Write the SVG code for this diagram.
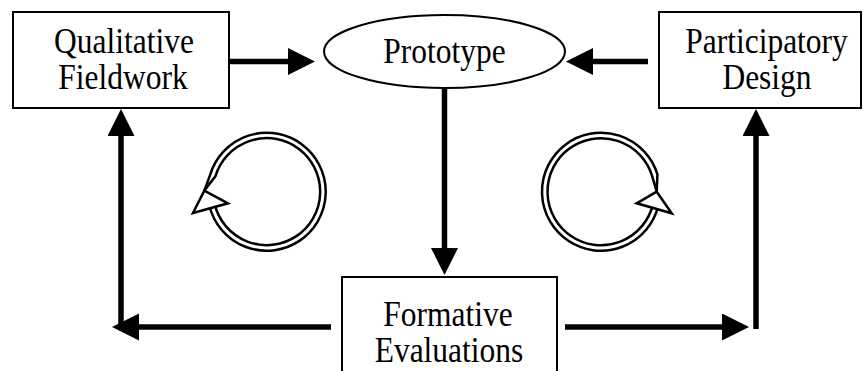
<svg xmlns="http://www.w3.org/2000/svg" width="863" height="371" viewBox="0 0 863 371">
  <style>
    .box { fill: #fff; stroke: #000; stroke-width: 2; }
    .lbl { font-family: "Liberation Serif", "Times New Roman", serif; font-size: 31.5px; fill: #000; text-anchor: middle; }
    .conn { stroke: #000; stroke-width: 5.5; fill: none; }
    .cyc { fill: #fff; stroke: #000; stroke-width: 2.5; stroke-linejoin: miter; }
  </style>
  <defs>
    <marker id="head" markerUnits="userSpaceOnUse" markerWidth="28" markerHeight="28" refX="1" refY="13.5" orient="auto">
      <path d="M0,0 L27,13.5 L0,27 Z" fill="#000"/>
    </marker>
  </defs>

  <rect width="863" height="371" fill="#fff"/>

  <!-- connectors -->
  <g id="connectors">
    <line class="conn" x1="229" y1="61.5" x2="289" y2="61.5" marker-end="url(#head)"/>
    <line class="conn" x1="648" y1="61.5" x2="592" y2="61.5" marker-end="url(#head)"/>
    <line class="conn" x1="444.5" y1="88" x2="444.5" y2="249" marker-end="url(#head)"/>
    <line class="conn" x1="331" y1="327" x2="138" y2="327" marker-end="url(#head)"/>
    <line class="conn" x1="121" y1="329" x2="121" y2="135" marker-end="url(#head)"/>
    <line class="conn" x1="565" y1="327" x2="723" y2="327" marker-end="url(#head)"/>
    <line class="conn" x1="756" y1="329" x2="756" y2="135" marker-end="url(#head)"/>
  </g>

  <!-- cycle symbols -->
  <g id="cycle-left">
    <path class="cyc" d="M209.45,205.97 A59,59 0 1 0 210.3,174.45 L204.3,190.7 L215.5,176.06 A53.5,53.5 0 1 1 214.79,204.64 Z"/>
    <path class="cyc" d="M204.3,190.7 L228,203.3 L193,213 Z"/>
  </g>
  <g id="cycle-right">
    <path class="cyc" d="M658.25,205.97 A59,59 0 1 1 657.42,174.45 L656.7,191.7 L652.16,176.06 A53.5,53.5 0 1 0 652.9,204.64 Z"/>
    <path class="cyc" d="M656.7,191.7 L636.7,203.3 L671.7,213.3 Z"/>
  </g>

  <!-- nodes -->
  <g id="qualitative-fieldwork">
    <rect class="box" x="13" y="12" width="216" height="96"/>
    <text class="lbl" transform="translate(124,53) scale(1,1.15)">Qualitative</text>
    <text class="lbl" transform="translate(123,89) scale(1,1.15)">Fieldwork</text>
  </g>

  <g id="prototype">
    <ellipse class="box" cx="444.5" cy="51.5" rx="120.5" ry="36.5"/>
    <text class="lbl" transform="translate(444.5,63) scale(1,1.15)">Prototype</text>
  </g>

  <g id="participatory-design">
    <rect class="box" x="659" y="12" width="202" height="96"/>
    <text class="lbl" transform="translate(766.5,53) scale(1,1.15)">Participatory</text>
    <text class="lbl" transform="translate(767,89) scale(1,1.15)">Design</text>
  </g>

  <g id="formative-evaluations">
    <rect class="box" x="342" y="277" width="215" height="100"/>
    <text class="lbl" transform="translate(448,325.7) scale(1,1.15)">Formative</text>
    <text class="lbl" transform="translate(449,361.7) scale(1,1.15)">Evaluations</text>
  </g>
</svg>
